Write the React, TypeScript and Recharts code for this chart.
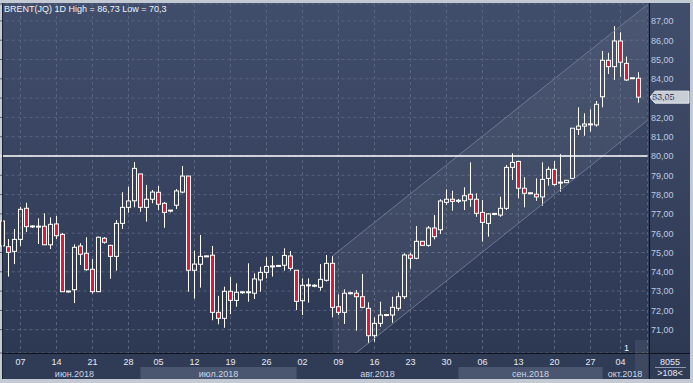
import React from "react";
import {
  ComposedChart,
  Bar,
  Area,
  XAxis,
  YAxis,
  CartesianGrid,
  ReferenceLine,
} from "recharts";

// BRENT daily candles (index 0 = leftmost, partly clipped)
const opens = [
  76.63, 75.3, 75.06, 75.68, 77.29, 76.34, 76.34, 76.36, 75.4, 76.48,
  75.94, 72.97, 73.07, 75.34, 74.96, 74.13, 72.97, 75.74, 75.37, 74.8,
  76.51, 77.34, 77.68, 79.07, 77.34, 77.76, 78.12, 77.55, 77.17, 77.45,
  78.13, 78.96, 74.08, 74.39, 74.8, 74.86, 71.9, 71.59, 72.99, 72.52,
  72.94, 72.94, 72.89, 73.58, 73.97, 74.28, 74.3, 74.34, 74.82, 74.08,
  72.5, 73.3, 73.28, 73.2, 73.56, 74.44, 72.19, 71.9, 72.89, 72.89,
  72.71, 72.11, 70.69, 71.33, 71.76, 71.76, 72.11, 72.71, 74.87, 74.7,
  75.58, 75.37, 76.27, 76.18, 77.6, 77.76, 77.68, 77.68, 78.02, 77.76,
  77.08, 76.51, 77.0, 76.94, 77.29, 79.41, 79.72, 78.33, 78.07, 78.02,
  77.88, 78.84, 79.31, 78.62, 78.62, 78.84, 81.38, 81.55, 81.64, 81.61,
  83.07, 84.96, 84.63, 85.96, 84.8, 84.03, 84.03,
];
const highs = [
  76.7, 75.7, 76.22, 77.37, 77.58, 76.41, 76.77, 77.03, 76.82, 76.89,
  76.01, 73.0, 75.42, 75.48, 75.79, 74.66, 75.82, 75.8, 75.4, 76.68,
  78.12, 78.41, 79.69, 79.07, 78.5, 78.24, 78.45, 77.62, 77.2, 78.29,
  79.48, 78.96, 75.09, 75.91, 74.85, 75.34, 72.75, 73.23, 73.73, 73.4,
  73.0, 74.44, 73.92, 74.26, 74.75, 74.82, 74.33, 75.22, 75.08, 74.08,
  73.66, 73.66, 73.35, 74.4, 74.87, 74.82, 72.83, 73.09, 72.97, 73.06,
  73.89, 72.42, 71.64, 72.45, 71.8, 72.71, 72.94, 74.96, 74.99, 76.37,
  75.6, 76.37, 76.94, 77.76, 78.27, 78.2, 77.78, 78.38, 79.67, 78.07,
  77.72, 77.03, 77.05, 77.89, 79.53, 80.14, 79.75, 78.9, 78.12, 78.84,
  79.67, 79.45, 79.74, 80.1, 78.76, 81.44, 82.52, 82.21, 82.42, 82.85,
  85.44, 85.35, 86.73, 86.41, 85.15, 84.05, 84.34,
];
const lows = [
  75.25, 73.75, 74.4, 75.34, 76.06, 76.27, 75.44, 75.4, 75.18, 75.7,
  72.97, 72.93, 72.38, 74.35, 74.06, 72.87, 72.95, 75.46, 73.64, 74.06,
  76.22, 77.06, 77.34, 77.11, 76.6, 77.55, 77.2, 76.28, 77.08, 77.25,
  78.07, 72.97, 72.61, 73.18, 74.77, 71.49, 71.28, 71.1, 71.8, 72.19,
  72.86, 72.45, 72.59, 72.97, 73.66, 73.75, 74.27, 74.06, 74.06, 72.02,
  71.76, 72.4, 73.2, 73.02, 73.49, 71.64, 71.76, 71.3, 72.83, 70.95,
  72.11, 70.3, 70.38, 71.15, 71.7, 71.36, 71.98, 72.59, 74.16, 74.65,
  75.35, 75.3, 75.68, 75.96, 77.46, 77.17, 77.56, 77.2, 77.37, 76.85,
  75.56, 75.82, 76.93, 76.85, 77.2, 78.76, 77.81, 77.34, 78.02, 77.68,
  77.42, 78.46, 78.46, 78.15, 78.6, 78.84, 81.09, 81.05, 81.26, 81.52,
  82.52, 84.25, 83.94, 84.11, 83.89, 84.01, 82.76,
];
const closes = [
  75.34, 75.01, 75.68, 77.24, 76.34, 76.36, 76.34, 75.4, 76.46, 75.87,
  72.97, 72.99, 75.27, 74.91, 74.11, 72.97, 75.79, 75.53, 74.8, 76.51,
  77.34, 77.67, 79.36, 77.34, 77.76, 78.13, 77.5, 77.08, 77.17, 78.19,
  78.96, 74.08, 74.4, 74.8, 74.8, 71.9, 71.59, 72.99, 72.52, 72.94,
  72.94, 72.94, 73.63, 73.97, 74.28, 74.28, 74.31, 74.85, 74.18, 72.47,
  73.3, 73.3, 73.28, 73.61, 74.44, 72.16, 71.9, 72.89, 72.89, 72.71,
  72.16, 70.69, 71.33, 71.76, 71.76, 72.16, 72.71, 74.87, 74.7, 75.58,
  75.37, 76.27, 75.82, 77.67, 77.76, 77.65, 77.68, 77.94, 77.76, 77.03,
  76.56, 77.0, 77.0, 77.29, 79.41, 79.67, 78.33, 78.07, 78.07, 77.88,
  78.79, 79.31, 78.53, 78.62, 78.74, 81.44, 81.55, 81.66, 81.64, 82.68,
  84.96, 84.63, 85.96, 84.86, 83.94, 84.03, 83.05,
];

const tickIdx = [3, 9, 15, 21, 26, 32, 38, 44, 50, 56, 62, 68, 74, 80, 86, 92, 98, 103];
const tickLabels = ["07", "14", "21", "28", "05", "12", "19", "26", "02", "09", "16", "23", "30", "06", "13", "20", "27", "04"];

const months = ["июн.2018", "июл.2018", "авг.2018", "сен.2018", "окт.2018"];
const monthFrom = [1, 23, 49, 76, 100];
const monthTo = [23, 49, 76, 100, 107.5];

const priceTicks = [71, 72, 73, 74, 75, 76, 77, 78, 79, 80, 81, 82, 83, 84, 85, 86, 87];
const level = 80;

// price channel drawn on the chart: upper line anchors and width in price units
const channelX = [55, 107.5];
const channelTop = [74.82, 87.85];
const channelWidth = 6.0;

const SLOT = 6;
const PLOT_BOTTOM = 353;
const FONT = "'Liberation Sans', Arial, sans-serif";

const rows = Array.from({ length: 108 }, (_, i) =>
  i < opens.length
    ? { i, o: opens[i], h: highs[i], l: lows[i], c: closes[i], hl: [lows[i], highs[i]] }
    : { i }
);

const channel = channelX.map((x, k) => ({
  x,
  band: [channelTop[k] - channelWidth, channelTop[k]],
}));

function Candle(props: any) {
  const { x, y, width, height, payload } = props;
  if (!payload || payload.o == null) return null;
  const { o, h, l, c } = payload;
  const top = Math.min(y, y + height);
  const span = Math.abs(height);
  const py = (v: number) => (h === l ? top : top + ((h - v) / (h - l)) * span);
  const cx = Math.floor(x + width / 2) + 0.5;
  let bt = Math.min(py(o), py(c));
  let bb = Math.max(py(o), py(c));
  if (bb - bt < 1) {
    const m = (bt + bb) / 2;
    bt = m - 0.5;
    bb = m + 0.5;
  }
  const down = c < o;
  return (
    <g>
      <line x1={cx} x2={cx} y1={top} y2={bt} stroke="#fff" />
      <line x1={cx} x2={cx} y1={bb} y2={top + span} stroke="#fff" />
      <rect
        x={cx - 2}
        y={bt}
        width={4}
        height={bb - bt}
        fill={down ? "#e2173d" : "none"}
        stroke="#fff"
        strokeWidth={1}
      />
    </g>
  );
}

function DayTick(props: any) {
  const { x, payload } = props;
  const k = tickIdx.indexOf(payload.value);
  return (
    <text x={x} y={PLOT_BOTTOM + 12} textAnchor="middle" fill="#e4eaf4" fontSize={9} fontFamily={FONT}>
      {tickLabels[k]}
    </text>
  );
}

function MonthTick(props: any) {
  const { x, index } = props;
  const w = (monthTo[index] - monthFrom[index]) * SLOT;
  return (
    <g>
      {index % 2 === 1 && (
        <rect x={x - w / 2} y={PLOT_BOTTOM + 14} width={w} height={12} fill="#4a5670" />
      )}
      <text x={x} y={PLOT_BOTTOM + 23.5} textAnchor="middle" fill="#cdd6e6" fontSize={9} fontFamily={FONT}>
        {months[index]}
      </text>
    </g>
  );
}

function PriceTick(props: any) {
  const { y, payload } = props;
  return (
    <text x={652} y={y + 3.3} fill="#bccbe2" fontSize={9} fontFamily={FONT}>
      {payload.value.toFixed(2).replace(".", ",")}
    </text>
  );
}

function LastPrice(props: any) {
  const { viewBox } = props;
  const y = viewBox.y;
  const x0 = 651;
  return (
    <g>
      <path
        d={`M${x0},${y} L${x0 + 5},${y - 6} L${690},${y - 6} L${690},${y + 6} L${x0 + 5},${y + 6} Z`}
        fill="#c9ced6"
        stroke="#e8ebef"
      />
      <text x={653} y={y + 3.3} fill="#1d2436" fontSize={9} fontFamily={FONT}>
        {closes[closes.length - 1].toFixed(2).replace(".", ",")}
      </text>
    </g>
  );
}

export default function App() {
  return (
    <div
      style={{
        position: "fixed",
        left: 0,
        top: 0,
        width: 693,
        height: 383,
        background: "#c3cad4",
        overflow: "hidden",
        fontFamily: FONT,
      }}
    >
      <div
        style={{
          position: "absolute",
          left: 2,
          top: 3,
          width: 688,
          height: 350,
          background: "linear-gradient(#414e6b, #2d3853)",
        }}
      />
      <div
        style={{ position: "absolute", left: 2, top: 353, width: 688, height: 26, background: "#303b55" }}
      />
      <div style={{ position: "absolute", left: -1, top: 0 }}>
        <ComposedChart
          width={694}
          height={383}
          data={rows}
          margin={{ top: 4, right: 0.5, bottom: 4, left: 0.5 }}
        >
          <CartesianGrid stroke="#58647f" strokeDasharray="3 3" />
          <XAxis
            dataKey="i"
            type="category"
            ticks={tickIdx}
            interval={0}
            height={14}
            tickLine={false}
            axisLine={false}
            tick={DayTick}
          />
          <XAxis
            xAxisId="m"
            dataKey="x"
            type="number"
            domain={[-0.5, 107.5]}
            allowDataOverflow
            ticks={monthFrom.map((f, k) => (f + monthTo[k]) / 2)}
            interval={0}
            height={12}
            tickLine={false}
            axisLine={false}
            tick={MonthTick}
          />
          <YAxis
            orientation="right"
            width={45}
            domain={[69.793, 87.876]}
            allowDataOverflow
            ticks={priceTicks}
            interval={0}
            tickLine={false}
            axisLine={false}
            tick={PriceTick}
          />
          <Area
            xAxisId="m"
            data={channel}
            dataKey="band"
            type="linear"
            fill="#ffffff"
            fillOpacity={0.055}
            stroke="none"
            isAnimationActive={false}
          />
          <ReferenceLine
            xAxisId="m"
            segment={[
              { x: channelX[0], y: channelTop[0] },
              { x: channelX[1], y: channelTop[1] },
            ]}
            stroke="#6c7893"
            ifOverflow="hidden"
          />
          <ReferenceLine
            xAxisId="m"
            segment={[
              { x: channelX[0], y: channelTop[0] - channelWidth },
              { x: channelX[1], y: channelTop[1] - channelWidth },
            ]}
            stroke="#6c7893"
            ifOverflow="hidden"
          />
          <ReferenceLine y={level} stroke="#ffffff" strokeWidth={1.5} />
          <Bar
            dataKey="hl"
            barSize={6}
            isAnimationActive={false}
            shape={(p: any) => <Candle {...p} />}
          />
          <ReferenceLine
            y={closes[closes.length - 1]}
            stroke="none"
            label={(p: any) => <LastPrice {...p} />}
          />
        </ComposedChart>
      </div>

      <div style={{ position: "absolute", left: 2, top: 353, width: 688, height: 1, background: "#0e131d" }} />
      <div style={{ position: "absolute", left: 649, top: 3, width: 1, height: 376, background: "#0e131d" }} />
      <div style={{ position: "absolute", left: 2, top: 3, width: 1, height: 376, background: "#1b2232" }} />

      <div
        style={{
          position: "absolute",
          left: 4,
          top: 4,
          fontSize: 9,
          lineHeight: "10px",
          color: "#eef2f8",
          whiteSpace: "nowrap",
        }}
      >
        BRENT(JQ) 1D High = 86,73 Low = 70,3
      </div>

      <div
        style={{ position: "absolute", left: 635, top: 340, width: 13, height: 39, background: "rgba(255,255,255,0.07)" }}
      />
      <div style={{ position: "absolute", left: 624, top: 343, fontSize: 9, lineHeight: "10px", color: "#e8edf5" }}>
        1
      </div>

      <div
        style={{
          position: "absolute",
          left: 650,
          top: 357,
          width: 40,
          textAlign: "center",
          fontSize: 9,
          lineHeight: "10px",
          color: "#e4eaf4",
        }}
      >
        8055
      </div>
      <div style={{ position: "absolute", left: 655, top: 367, width: 31, height: 1, background: "#8f9bb2" }} />
      <div
        style={{
          position: "absolute",
          left: 650,
          top: 368,
          width: 40,
          textAlign: "center",
          fontSize: 9,
          lineHeight: "10px",
          color: "#e4eaf4",
        }}
      >
        &gt;108&lt;
      </div>
    </div>
  );
}
